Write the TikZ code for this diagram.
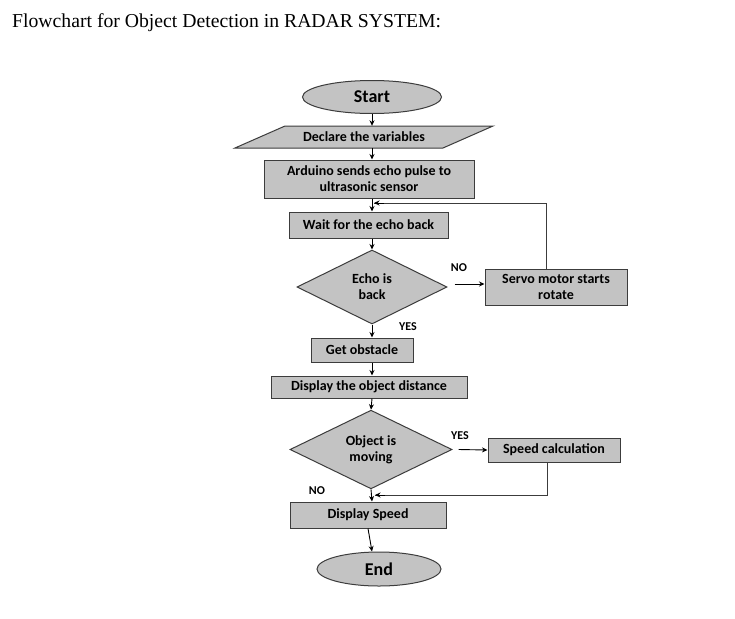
\documentclass[tikz,border=0pt]{standalone}
\usepackage{fontspec}
\setmainfont{Liberation Serif}
\newfontfamily\flowfont{Carlito}
\usetikzlibrary{shapes.geometric,arrows.meta,calc}
\definecolor{boxgray}{RGB}{195,195,195}
\definecolor{edgegray}{RGB}{60,60,60}
\begin{document}
\begin{tikzpicture}[x=1pt,y=-1pt,
  shapeline/.style={draw=edgegray, fill=boxgray, line width=1pt},
  boxtext/.style={font=\flowfont\bfseries\fontsize{14}{16}\selectfont, align=center, inner sep=0pt},
  box/.style={shapeline, boxtext, rectangle},
  term/.style={shapeline, ellipse, inner sep=0pt, font=\flowfont\bfseries\fontsize{18}{20}\selectfont},
  decision/.style={shapeline, boxtext, diamond},
  lbl/.style={font=\flowfont\bfseries\fontsize{12}{13}\selectfont, inner sep=0pt},
  arr/.style={draw=black, line width=0.9pt, -{Stealth[length=5.5pt,width=5pt]}},
  ln/.style={draw=edgegray, line width=1pt}
]
\useasboundingbox (0,0) rectangle (735,618);
\fill[white] (0,0) rectangle (735,618);

\node[anchor=base west, inner sep=0pt, font=\fontsize{19.7}{24}\selectfont] (title) at (12,28) {Flowchart for Object Detection in RADAR SYSTEM:};

\coordinate (axis) at (372,0);

\node[term, minimum width=139pt, minimum height=33pt] (start) at (372,97) {Start};

\filldraw[shapeline] (235,148) -- (285,126) -- (493,126) -- (443,148) -- cycle;
\node[boxtext, minimum width=258pt, minimum height=22pt] (decl) at (364,137) {Declare the variables};

\node[box, minimum width=210pt, minimum height=38pt] (ard) at (369,179) {Arduino sends echo pulse to\\ultrasonic sensor};
\node[box, minimum width=159pt, minimum height=26pt] (wait) at (368.5,225) {Wait for the echo back};
\node[decision, minimum width=150pt, minimum height=74pt] (echo) at (372,287) {Echo is\\back};
\node[box, minimum width=142pt, minimum height=36pt] (servo) at (556,287) {Servo motor starts\\rotate};
\node[box, minimum width=102pt, minimum height=24pt] (obst) at (362,350) {Get obstacle};
\node[box, minimum width=196pt, minimum height=22pt] (dist) at (369,387) {Display the object distance};
\node[decision, minimum width=162pt, minimum height=77pt] (obj) at (371,449.5) {Object is\\moving};
\node[box, minimum width=132pt, minimum height=24pt] (speed) at (554,450) {Speed calculation};
\node[box, minimum width=156pt, minimum height=26pt] (dspeed) at (368,515) {Display Speed};
\node[term, minimum width=124pt, minimum height=34pt] (end) at (379,569) {End};

\node[lbl] (lno1) at (459,268) {NO};
\node[lbl] (lyes1) at (408,327) {YES};
\node[lbl] (lyes2) at (460,436) {YES};
\node[lbl] (lno2) at (317,491) {NO};

\coordinate (join1) at (374,203);
\coordinate (join2) at (375,495);

\draw[arr] (start.south) -- (axis |- decl.north);
\draw[arr] (axis |- decl.south) -- (axis |- ard.north);
\draw[arr] (axis |- ard.south) -- (axis |- wait.north);
\draw[ln] ([xshift=-10pt]servo.north) |- (join1);
\draw[arr] (join1) ++(10,0) -- (join1);
\draw[arr] (axis |- wait.south) -- (echo.north);
\draw[arr] ([xshift=7pt,yshift=3pt]echo.east) -- ([yshift=3pt]servo.west);
\draw[arr] (echo.south) -- (axis |- obst.north);
\draw[arr] (axis |- obst.south) -- (axis |- dist.north);
\draw[arr] (axis |- dist.south) -- (obj.north);
\draw[arr] ([xshift=6pt]obj.east) -- (speed.west);
\draw[ln] ([xshift=-7pt]speed.south) |- (join2);
\draw[arr] (join2) ++(10,0) -- (join2);
\draw[arr] (obj.south) -- (axis |- dspeed.north);
\draw[arr] (dspeed.south) -- ([xshift=-7pt]end.north);
\end{tikzpicture}
\end{document}
